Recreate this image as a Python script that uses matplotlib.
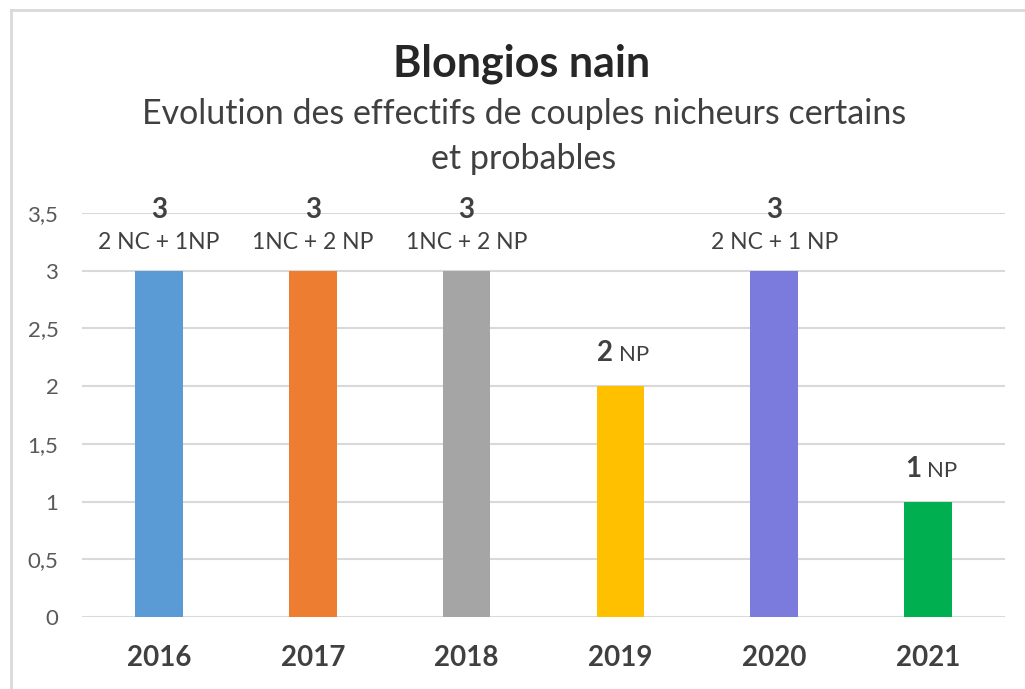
import matplotlib
matplotlib.use("Agg")
import matplotlib.pyplot as plt
from matplotlib.lines import Line2D
from matplotlib.ticker import FuncFormatter

years = ["2016", "2017", "2018", "2019", "2020", "2021"]
values = [3, 3, 3, 2, 3, 1]
details = ["2 NC + 1NP", "1NC + 2 NP", "1NC + 2 NP", "NP", "2 NC + 1 NP", "NP"]
inline = [False, False, False, True, False, True]
colors = ["#5B9BD5", "#ED7D31", "#A5A5A5", "#FFC000", "#7B7BDE", "#00B050"]
yticks = [0, 0.5, 1, 1.5, 2, 2.5, 3, 3.5]

plt.rcParams['font.family'] = ['Lato', 'DejaVu Sans']

fig = plt.figure(figsize=(10.25, 6.89), dpi=100)
ax = fig.add_axes([0.080, 0.1045, 0.9005, 0.5864])

x = list(range(len(years)))
ax.bar(x, values, width=0.31, color=colors, zorder=3)
ax.set_xlim(-0.5, len(years) - 0.5)
ax.set_ylim(0, 3.5)
ax.set_yticks(yticks)
ax.yaxis.set_major_formatter(FuncFormatter(lambda v, p: (f"{v:g}").replace(".", ",")))
ax.grid(axis='y', color='#D9D9D9', linewidth=1.5, zorder=0)
for s in ax.spines.values():
    s.set_visible(False)
ax.tick_params(axis='both', length=0)
ax.tick_params(axis='y', labelsize=16, labelcolor='#595959', pad=17)
ax.set_xticks(x)
ax.set_xticklabels(years, fontsize=20, fontweight='bold', color='#404040')
ax.tick_params(axis='x', pad=20)

for xi, v, d, inl in zip(x, values, details, inline):
    if inl:
        ax.annotate(str(v), (xi, v), xytext=(-5, 18), textcoords='offset points',
                    ha='right', va='baseline', fontsize=20, fontweight='bold', color='#404040')
        ax.annotate(d, (xi, v), xytext=(-1, 18), textcoords='offset points',
                    ha='left', va='baseline', fontsize=16, color='#404040')
    else:
        ax.annotate(str(v), (xi, v), xytext=(0, 44), textcoords='offset points',
                    ha='center', va='center', fontsize=20, fontweight='bold', color='#404040')
        ax.annotate(d, (xi, v), xytext=(0, 20), textcoords='offset points',
                    ha='center', va='center', fontsize=16.5, color='#404040')

fig.text(0.509, 1 - 64 / 689, "Blongios nain", ha='center', va='center',
         fontsize=31, fontweight='bold', color='#262626')
fig.text(0.511, 1 - 114 / 689, "Evolution des effectifs de couples nicheurs certains",
         ha='center', va='center', fontsize=24.5, color='#404040')
fig.text(0.511, 1 - 159 / 689, "et probables",
         ha='center', va='center', fontsize=24.5, color='#404040')

# frame border (left and top)
fig.add_artist(Line2D([10.5 / 1025, 10.5 / 1025], [0, 1 - 10 / 689], transform=fig.transFigure,
                      color='#D9D9D9', linewidth=2))
fig.add_artist(Line2D([10.5 / 1025, 1], [1 - 10 / 689, 1 - 10 / 689], transform=fig.transFigure,
                      color='#D9D9D9', linewidth=2))

fig.savefig("out.png", dpi=100)
